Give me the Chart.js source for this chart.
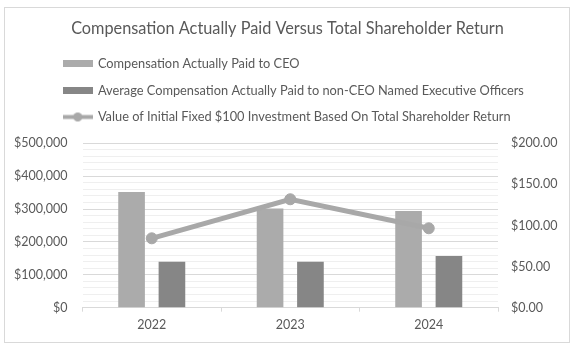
<!DOCTYPE html>
<html>
<head>
<meta charset="utf-8">
<script src="https://cdn.jsdelivr.net/npm/chart.js@4"></script>
<style>
  html, body { margin: 0; padding: 0; background: #fff; }
  #wrap { width: 575px; height: 349px; }
</style>
</head>
<body>
<div id="wrap"><canvas id="capChart" width="575" height="349"></canvas></div>
<script>
const years = ["2022", "2023", "2024"];
const ceoPaid = [352000, 302000, 294000];
const neoPaid = [140000, 140000, 157000];
const tsrValue = [84.4, 131.9, 96.6];

const seriesNames = [
  "Compensation Actually Paid to CEO",
  "Average Compensation Actually Paid to non-CEO Named Executive Officers",
  "Value of Initial Fixed $100 Investment Based On Total Shareholder Return",
];

const FONT = "Lato";
const TEXT = "#595959";
const CEO_COLOR = "#ababab";
const NEO_COLOR = "#868686";
const LINE_COLOR = "#a8a8a8";

// ---- legend icons (small canvases used as point styles) ----
function rectIcon(color) {
  const c = document.createElement("canvas");
  c.width = 30;
  c.height = 7;
  const g = c.getContext("2d");
  g.fillStyle = color;
  g.fillRect(0, 0, 30, 7);
  return c;
}

function lineIcon(color) {
  const c = document.createElement("canvas");
  c.width = 30;
  c.height = 11;
  const g = c.getContext("2d");
  g.strokeStyle = color;
  g.lineWidth = 4;
  g.beginPath();
  g.moveTo(0, 5.5);
  g.lineTo(30, 5.5);
  g.stroke();
  g.fillStyle = color;
  g.beginPath();
  g.arc(15, 5.5, 4.5, 0, Math.PI * 2);
  g.fill();
  return c;
}

const legendIcons = [rectIcon(CEO_COLOR), rectIcon(NEO_COLOR), lineIcon(LINE_COLOR)];

// frame around the whole chart + left aligned legend rows
const framePlugin = {
  id: "frame",
  afterLayout(chart) {
    chart.legend.left = 50.3;
  },
  beforeDraw(chart) {
    const ctx = chart.ctx;
    ctx.save();
    ctx.fillStyle = "#fff";
    ctx.fillRect(0, 0, chart.width, chart.height);
    ctx.strokeStyle = "#d9d9d9";
    ctx.lineWidth = 1;
    ctx.strokeRect(4.5, 7.5, 565, 335);
    ctx.restore();
  },
};

new Chart(document.getElementById("capChart"), {
  type: "bar",
  data: {
    labels: years,
    datasets: [
      {
        label: seriesNames[0],
        data: ceoPaid,
        backgroundColor: CEO_COLOR,
        yAxisID: "y",
        order: 1,
      },
      {
        label: seriesNames[1],
        data: neoPaid,
        backgroundColor: NEO_COLOR,
        yAxisID: "y",
        order: 1,
      },
      {
        type: "line",
        label: seriesNames[2],
        data: tsrValue,
        yAxisID: "y1",
        borderColor: LINE_COLOR,
        backgroundColor: LINE_COLOR,
        borderWidth: 5,
        pointRadius: 5.5,
        pointBorderWidth: 1,
        pointBackgroundColor: LINE_COLOR,
        pointBorderColor: LINE_COLOR,
        tension: 0,
        order: 0,
      },
    ],
  },
  options: {
    responsive: false,
    animation: false,
    categoryPercentage: 0.583,
    barPercentage: 0.66,
    layout: { padding: 0 },
    plugins: {
      tooltip: { enabled: false },
      title: {
        display: true,
        text: "Compensation Actually Paid Versus Total Shareholder Return",
        color: TEXT,
        font: { family: FONT, size: 16.3, weight: "normal", lineHeight: 1.2 },
        padding: { top: 19.2, bottom: 5.1 },
      },
      subtitle: {
        // spacer between legend and plot
        display: true,
        text: " ",
        weight: 500,
        font: { size: 1, lineHeight: 1 },
        padding: { top: 8.9, bottom: 0 },
      },
      legend: {
        position: "top",
        align: "start",
        labels: {
          color: TEXT,
          font: { family: FONT, size: 12.8 },
          padding: 13.7,
          usePointStyle: true,
          pointStyleWidth: 27.5,
          sort: (a, b) => a.datasetIndex - b.datasetIndex,
          generateLabels(chart) {
            const items = Chart.defaults.plugins.legend.labels.generateLabels(chart);
            items.forEach((it) => {
              it.pointStyle = legendIcons[it.datasetIndex];
            });
            return items;
          },
        },
      },
    },
    scales: {
      x: {
        grid: {
          display: true,
          drawOnChartArea: false,
          drawTicks: true,
          tickLength: 4,
          color: "#d9d9d9",
        },
        border: { display: true, color: "#d9d9d9" },
        ticks: { color: TEXT, font: { family: FONT, size: 12.5 }, padding: 6 },
        afterFit(s) {
          s.height = 41.3;
        },
      },
      y: {
        position: "left",
        min: 0,
        max: 500000,
        grid: {
          drawTicks: false,
          color: (c) => (c.tick && c.tick.value % 100000 === 0 ? "#d9d9d9" : "#efefef"),
        },
        border: { display: false },
        ticks: {
          stepSize: 20000,
          autoSkip: false,
          color: TEXT,
          font: { family: FONT, size: 12.5 },
          padding: 15,
          callback: (v) => (v % 100000 === 0 ? "$" + v.toLocaleString("en-US") : ""),
        },
        afterFit(s) {
          s.width = 82.5;
        },
      },
      y1: {
        position: "right",
        min: 0,
        max: 200,
        grid: { drawOnChartArea: false, drawTicks: false },
        border: { display: false },
        ticks: {
          stepSize: 50,
          color: TEXT,
          font: { family: FONT, size: 12.5 },
          padding: 13,
          callback: (v) => "$" + v.toFixed(2),
        },
        afterFit(s) {
          s.width = 77;
        },
      },
    },
  },
  plugins: [framePlugin],
});
</script>
</body>
</html>
